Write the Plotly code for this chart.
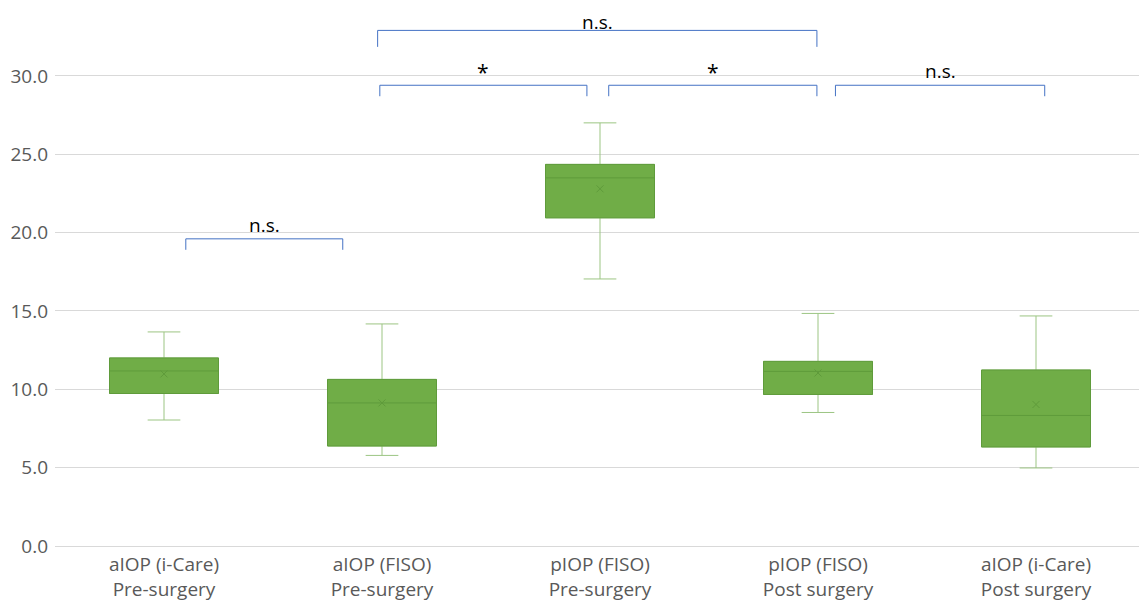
import plotly.graph_objects as go

categories = ["aIOP (i-Care)<br>Pre-surgery", "aIOP (FISO)<br>Pre-surgery",
              "pIOP (FISO)<br>Pre-surgery", "pIOP (FISO)<br>Post surgery",
              "aIOP (i-Care)<br>Post surgery"]
lower_whisker = [8.04, 5.78, 17.04, 8.52, 4.98]
q1_values = [9.73, 6.38, 20.94, 9.67, 6.32]
median_values = [11.17, 9.13, 23.49, 11.14, 8.33]
q3_values = [12.00, 10.63, 24.35, 11.78, 11.23]
upper_whisker = [13.66, 14.17, 27.00, 14.84, 14.68]
mean_values = [10.98, 9.13, 22.79, 11.04, 9.03]
y_ticks = [0, 5, 10, 15, 20, 25, 30]
y_tick_labels = ["0.0", "5.0", "10.0", "15.0", "20.0", "25.0", "30.0"]

# significance brackets: (left, right, top, tick bottom, label, text shift px)
brackets = [
    (0.10, 0.82, 19.6, 18.9, "n.s.", 0),
    (0.98, 2.995, 32.9, 31.85, "n.s.", -6),
    (0.99, 1.94, 29.4, 28.7, "*", -2),
    (2.04, 2.995, 29.4, 28.7, "*", -2),
    (3.08, 4.04, 29.4, 28.7, "n.s.", 0),
]

FILL = "#70AD47"
WHISKER = "#9CC583"
MEDIAN = "#5F9B3B"
BRACKET = "#4472C4"
FONT = "Open Sans"

xpos = list(range(len(categories)))

fig = go.Figure()
fig.add_trace(go.Box(
    x=xpos, q1=q1_values, median=median_values, q3=q3_values,
    lowerfence=lower_whisker, upperfence=upper_whisker,
    fillcolor=FILL, line=dict(color=WHISKER, width=1),
    width=0.5, whiskerwidth=0.3, boxpoints=False, showlegend=False,
    hoverinfo="skip",
))
fig.add_trace(go.Box(
    x=xpos, q1=q1_values, median=median_values, q3=q3_values,
    lowerfence=q1_values, upperfence=q3_values,
    fillcolor=FILL, line=dict(color=MEDIAN, width=1),
    width=0.5, whiskerwidth=0, boxpoints=False, showlegend=False,
    hoverinfo="skip",
))
fig.add_trace(go.Scatter(
    x=xpos, y=mean_values, mode="markers",
    marker=dict(symbol="x-thin", size=7, line=dict(color=MEDIAN, width=1)),
    showlegend=False, hoverinfo="skip",
))

for x0, x1, ytop, ybot, label, shift in brackets:
    fig.add_shape(type="path",
                  path=f"M {x0},{ybot} L {x0},{ytop} L {x1},{ytop} L {x1},{ybot}",
                  xref="x", yref="y", line=dict(color=BRACKET, width=1))
    fig.add_annotation(x=(x0 + x1) / 2, y=ytop, text=label, showarrow=False,
                       xref="x", yref="y", yanchor="bottom", yshift=shift,
                       borderpad=0,
                       font=dict(family=FONT, size=19 if label != "*" else 21,
                                 color="#000000"))

fig.update_layout(
    width=1139, height=593,
    margin=dict(l=47, r=2, t=13, b=55),
    paper_bgcolor="white", plot_bgcolor="white",
    boxmode="overlay",
    font=dict(family=FONT, color="#595959", size=19),
    xaxis=dict(tickmode="array", tickvals=xpos, ticktext=categories,
               range=[-0.5, 4.5], showgrid=False, zeroline=False,
               showline=False, ticks="", automargin=False,
               ticklabelstandoff=5,
               tickfont=dict(size=19, color="#595959")),
    yaxis=dict(tickmode="array", tickvals=y_ticks, ticktext=y_tick_labels,
               range=[0, 33.5], showgrid=True, gridcolor="#D9D9D9",
               zeroline=True, zerolinecolor="#D9D9D9", zerolinewidth=1,
               showline=False, ticks="", automargin=False,
               ticklabelstandoff=6,
               tickfont=dict(size=19, color="#595959")),
)

fig.write_html("out.html")
